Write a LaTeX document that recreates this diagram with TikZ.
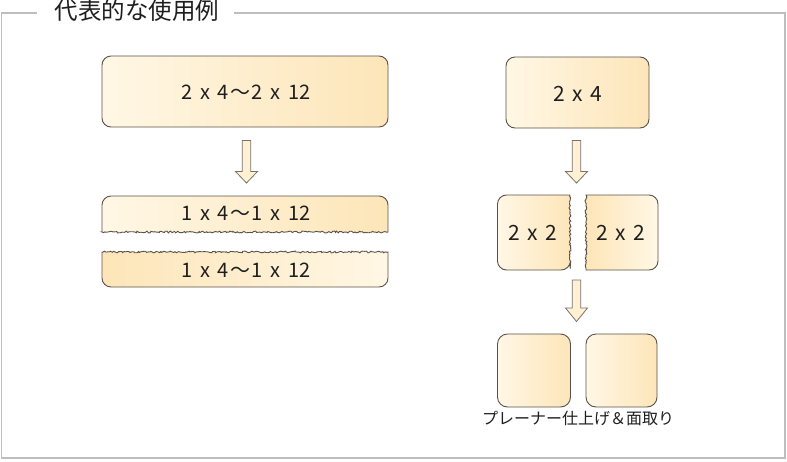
\documentclass[tikz,border=0pt]{standalone}
\usepackage{fontspec}
\setmainfont{Noto Sans CJK JP}
\usetikzlibrary{decorations.pathmorphing}
\definecolor{lightc}{HTML}{FFF7E5}
\definecolor{darkc}{HTML}{FDE5B8}
\definecolor{edgec}{HTML}{5A524A}
\definecolor{framec}{HTML}{BEBEBE}
\definecolor{arrowfill}{HTML}{FFF1D2}
\definecolor{arrowedge}{HTML}{77726C}
\definecolor{textc}{HTML}{1E1E1E}
\newcommand{\wsp}{\hspace{7.5pt}}
\newcommand{\wtl}{\hspace{1.5pt}～\hspace{1.5pt}}
\begin{document}
\begin{tikzpicture}[x=1pt,y=-1pt,
  box/.style={draw=edgec,line width=0.9pt},
  lr/.style={left color=lightc,right color=darkc},
  rl/.style={left color=darkc,right color=lightc},
  rough/.style={decoration={random steps,segment length=1.5pt,amplitude=0.9pt}},
  lbl/.style={text=textc,font=\fontsize{20}{24}\selectfont,inner sep=0pt},
  barrow/.style={fill=arrowfill,draw=arrowedge,line width=0.8pt,line join=miter}
]
\pgfmathsetseed{7}
\useasboundingbox (0,0) rectangle (787,461);
% frame
\draw[framec,line width=1.5pt] (37,13) -- (1.5,13) -- (1.5,458) -- (785,458) -- (785,13) -- (234,13);
\node[text=textc,font=\fontsize{23.5}{26}\selectfont,inner sep=0pt] (title) at (137,11) {代表的な使用例};

% left column
\shade[box,lr,rounded corners=9] (102,56) rectangle (388,127);
\node[lbl] (big) at (246,92) {2\wsp x\wsp 4\wtl 2\wsp x\wsp 12};

\newcommand{\blockarrow}[4]{%
  \draw[barrow] (#1-4.2,#2) -- (#1+4.2,#2) -- (#1+4.2,#3) -- (#1+11,#3) -- (#1,#4)
    -- (#1-11,#3) -- (#1-4.2,#3) -- cycle;}
\blockarrow{246.5}{140.5}{171.5}{183}

\shade[box,lr] [rounded corners=9] (102,232) -- (102,196) -- (388,196) [sharp corners] -- (388,232)
   decorate[rough]{-- (102,232)} -- cycle;
\shade[box,rl] (102,252) decorate[rough]{-- (388,252)} [rounded corners=9] -- (388,287) -- (102,287) [sharp corners] -- cycle;
\node[lbl] (halfa) at (246,213) {1\wsp x\wsp 4\wtl 1\wsp x\wsp 12};
\node[lbl] (halfb) at (246,270) {1\wsp x\wsp 4\wtl 1\wsp x\wsp 12};

% right column
\shade[box,lr,rounded corners=9] (506,57) rectangle (649,128);
\node[lbl,font=\fontsize{21}{24}\selectfont] (two) at (577.5,94) {2\wsp x\wsp 4};
\blockarrow{576.5}{140.5}{171.5}{183}

\shade[box,lr] [rounded corners=9] (570,195) -- (497.5,195) -- (497.5,270) -- (570,270) [sharp corners]
   decorate[rough]{-- (570,195)} -- cycle;
\shade[box,rl] (586,270) decorate[rough]{-- (586,195)} [rounded corners=9] -- (658,195) -- (658,270) [sharp corners] -- cycle;
\node[lbl,font=\fontsize{21}{24}\selectfont] (qa) at (533,233) {2\wsp x\wsp 2};
\node[lbl,font=\fontsize{21}{24}\selectfont] (qb) at (621,233) {2\wsp x\wsp 2};
\blockarrow{576.5}{280}{308}{321.5}

\shade[box,lr,rounded corners=10] (497.5,334) rectangle (570.5,407);
\shade[box,lr,rounded corners=10] (586,334) rectangle (657,407);
\node[text=textc,font=\fontsize{16}{18}\selectfont,inner sep=0pt] (cap) at (578,418) {プレーナー仕上げ＆面取り};
\end{tikzpicture}
\end{document}
